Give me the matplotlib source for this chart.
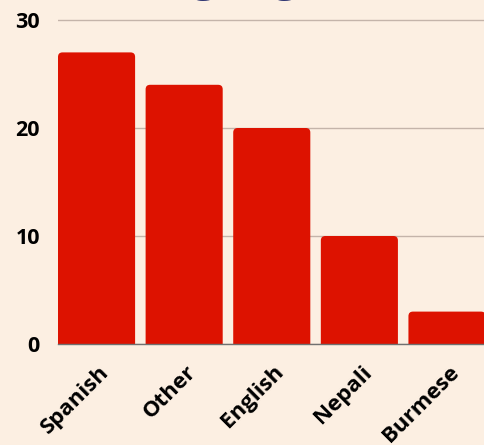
import matplotlib
matplotlib.use("Agg")
import matplotlib.pyplot as plt
from matplotlib.patches import FancyBboxPatch
from matplotlib.transforms import ScaledTranslation

categories = ["Spanish", "Other", "English", "Nepali", "Burmese"]
values = [27, 24, 20, 10, 3]
yticks = [0, 10, 20, 30]
title = "Languages"

BG = "#fcefe2"
RED = "#dd1200"
GRID = "#c4b4aa"
NAVY = "#2e3572"

W, H = 485, 445
fig = plt.figure(figsize=(W / 100, H / 100), dpi=100, facecolor=BG)
ax = fig.add_axes([58 / W, (H - 344) / H, (W - 58) / W + 0.002, (344 - 9.2) / H])
ax.set_facecolor(BG)

x = list(range(len(categories)))
bw = 0.88
bars = ax.bar(x, values, width=bw, color=RED, zorder=2)
ax.set_xlim(-bw / 2, len(categories) - 1 + bw / 2 + 0.005)
ax.set_ylim(0, 31)

fig.canvas.draw()
p0 = ax.transData.transform((0, 0))
p1 = ax.transData.transform((1, 1))
sx, sy = p1[0] - p0[0], p1[1] - p0[1]
rpx = 4.5
rx = rpx / sx
aspect = (rpx / sy) / rx
for b in bars:
    bx, bwid, bh = b.get_x(), b.get_width(), b.get_height()
    b.set_visible(False)
    patch = FancyBboxPatch((bx, -2), bwid, bh + 2,
                           boxstyle=f"round,pad=0,rounding_size={rx}",
                           mutation_aspect=aspect, facecolor=RED,
                           edgecolor="none", zorder=2, clip_on=True)
    ax.add_patch(patch)

ax.set_yticks(yticks)
ax.set_yticklabels([str(t) for t in yticks], fontfamily="Open Sans",
                   fontweight="bold", fontsize=15.5, color="black")
ax.set_xticks(x)
ax.set_xticklabels(categories, rotation=45, ha="right", va="center",
                   rotation_mode="anchor", fontfamily="Open Sans",
                   fontweight="bold", fontsize=16, color="black")
ax.tick_params(axis="both", length=0)
ax.tick_params(axis="y", pad=13)
ax.tick_params(axis="x", pad=18)
shift = ScaledTranslation(9 / 100, 0, fig.dpi_scale_trans)
for t in ax.get_xticklabels():
    t.set_transform(t.get_transform() + shift)
ax.grid(axis="y", color=GRID, linewidth=1, zorder=0)
for s in ["top", "right", "left"]:
    ax.spines[s].set_visible(False)
ax.spines["bottom"].set_color("#707070")
ax.spines["bottom"].set_linewidth(1)
ax.spines["bottom"].set_zorder(3)

fig.text(229 / W, 1 + 10 / H, title, ha="center", va="baseline",
         fontfamily="Open Sans", fontweight="bold", fontsize=32, color=NAVY)

fig.savefig("out.png", dpi=100, facecolor=BG)
